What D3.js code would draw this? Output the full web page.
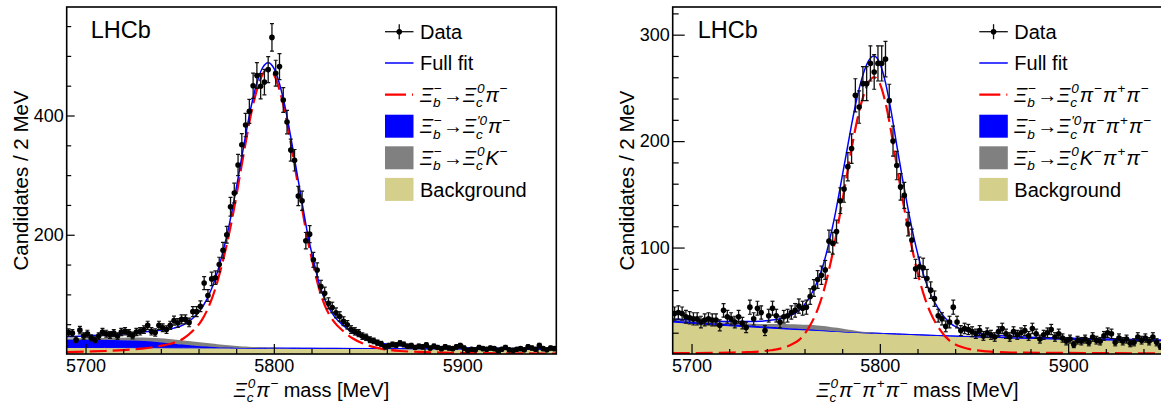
<!DOCTYPE html>
<html>
<head>
<meta charset="utf-8">
<script src="https://cdn.jsdelivr.net/npm/d3@7"></script>
<style>
  body { margin: 0; background: #fff; }
  svg { display: block; font-family: "Liberation Sans", Arial, Helvetica, sans-serif; }
</style>
</head>
<body>
<div id="chart"></div>
<script>
// 2 MeV bins from 5690 to 5950 (bin centres)
var binCentres = d3.range(5691, 5950, 2);

// candidates per bin
var leftCounts = [
  36,35,24,40,30,34,27,24,30,37,34,32,35,30,37,38,35,31,37,38,41,48,38,36,48,44,41,48,56,52,58,58,53,71,71,80,119,98,
  126,128,150,174,200,247,270,317,351,384,407,450,467,449,456,477,531,471,482,426,389,
  342,325,265,257,190,201,158,141,113,102,85,78,69,63,55,49,41,38,35,30,28,
  24,22,19,17,12,14,16,15,18,16,13,14,11,13,12,15,10,13,11,9,12,10,9,12,14,10,6,8,7,11,9,8,10,9,6,8,11,7,6,8,9,7,12,10,8,14,9,7,10,9
];
var rightCounts = [
  38,39,38,35,34,33,33,30,32,33,32,32,27,41,35,33,30,35,29,25,44,33,43,39,22,36,43,36,30,35,36,39,41,45,43,44,54,62,70,
  74,79,106,104,115,144,155,176,193,243,232,254,254,273,265,273,273,277,238,200,
  177,157,149,122,107,80,82,81,71,60,52,36,33,26,30,44,30,22,24,
  23,21,19,22,17,20,18,16,21,24,19,16,21,18,20,22,17,24,19,14,18,20,23,16,19,15,12,14,9,13,12,14,11,16,13,12,17,20,19,11,15,12,14,10,11,16,13,15,12,16,11,7
];

// fit curves sampled at these masses
var fitMass = [5690,5700,5710,5720,5730,5737,5742,5747,5752,5757,5762,5767,5770,5773,5776,5779,5782,5785,5788,5791,5794,5797,
  5800,5803,5806,5809,5812,5815,5818,5821,5824,5827,5832,5837,5842,5847,5857,5867,5877,5897,5920,5950];

var leftFull = [29,30.4,31.8,33.7,36.6,38.8,40.8,43.4,48.8,60,78,110,137,172,212,260,313,366.6,415.9,454.5,480.1,488.7,
  479.4,453.2,413.9,363.8,308.7,253.6,200.6,157.6,119.5,91.5,63.5,47.4,35.3,27.3,18.1,14,12.3,10.6,9.5,8.8];
var leftSignal = [3,4,5,6.5,9,12,15,19,26,39,58,92,121,157,198,246,300,354,404,443,469,478,
  469,443,404,354,299,244,191,148,110,82,54,38,26,18,9,5,3.5,2,1.2,0.8];
var leftBkg = [11,10.9,10.8,10.7,10.6,10.5,10.5,10.4,10.3,10.3,10.2,10.2,10.1,10.1,10.1,10,10,10,9.9,9.9,9.9,9.8,
  9.8,9.8,9.7,9.7,9.7,9.6,9.6,9.6,9.5,9.5,9.5,9.4,9.3,9.3,9.1,9,8.8,8.6,8.3,8];
var leftPartReco = [13,13,13,12.5,11.5,10,8.5,7,5.5,4,2.8,1.8,1.3,0.9,0.6,0.4,0.2,0.1,0,0,0,0,
  0,0,0,0,0,0,0,0,0,0,0,0,0,0,0,0,0,0,0,0];
var leftMisId = [2,2.5,3,4,5.5,6.3,6.8,7,7,6.8,6.3,5.5,5,4.5,4,3.5,3,2.5,2,1.6,1.2,0.9,
  0.6,0.4,0.2,0.1,0,0,0,0,0,0,0,0,0,0,0,0,0,0,0,0];

var rightFull = [32.8,32,31.1,30.6,30.5,30.8,31.7,33.1,35.9,40.8,51.4,68.8,84.2,104.6,128.8,157.1,186.2,215.5,241.7,262,275.4,279.9,
  273,255,228,196,165,136,110,88,70,56,40,29.5,24.2,21.2,18.3,16.8,16,15,14.1,13.1];
var rightSignal = [0.8,0.9,1,1.3,1.8,2.5,3.5,5,8,13,24,42,58,79,104,133,163,193,220,241,255,260,
  254,236,209,177,146,118,92,70,52,38.4,22.7,12.5,7.5,4.8,2.5,1.5,1.2,1,0.8,0.6];
var rightBkg = [30,28.8,27.6,26.5,25.5,24.8,24.3,23.8,23.3,22.9,22.5,22.1,21.8,21.5,21.2,21,20.7,20.5,20.2,20,19.8,19.6,
  19.4,19.2,19,18.8,18.6,18.4,18.2,18,17.8,17.6,17.3,17,16.7,16.4,15.8,15.3,14.8,14,13.3,12.5];
var rightPartReco = [1.5,1.5,1.5,1.5,1.4,1.3,1.2,1.1,1,0.9,0.7,0.5,0.4,0.3,0.2,0.1,0,0,0,0,0,0,
  0,0,0,0,0,0,0,0,0,0,0,0,0,0,0,0,0,0,0,0];
var rightMisId = [0.5,0.8,1,1.3,1.8,2.2,2.7,3.2,3.6,4,4.2,4.2,4,3.8,3.4,3,2.5,2,1.5,1,0.6,0.3,
  0.1,0,0,0,0,0,0,0,0,0,0,0,0,0,0,0,0,0,0,0];

// axis ticks
var xMajorTicks = [5700, 5800, 5900];
var xMinorTicks = [5720, 5740, 5760, 5780, 5820, 5840, 5860, 5880, 5920, 5940];
var leftYMajor = [200, 400];
var leftYMinor = [50, 100, 150, 250, 300, 350, 450, 500, 550];
var rightYMajor = [100, 200, 300];
var rightYMinor = [20, 40, 60, 80, 120, 140, 160, 180, 220, 240, 260, 280, 320];

// legend labels; b = italic base, n = upright, gap = blank space, sub/sup = stacked scripts
var XIB = [{b: "\u039E"}, {sub: "b", sup: "\u2212"}, {n: "\u2192"}];
var leftLegend = [
  [{n: "Data"}],
  [{n: "Full fit"}],
  XIB.concat([{b: "\u039E"}, {sub: "c", sup: "0"}, {b: "\u03C0"}, {sup: "\u2212"}]),
  XIB.concat([{b: "\u039E"}, {sub: "c", sup: "\u20320"}, {b: "\u03C0"}, {sup: "\u2212"}]),
  XIB.concat([{b: "\u039E"}, {sub: "c", sup: "0"}, {b: "K"}, {sup: "\u2212"}]),
  [{n: "Background"}]
];
var rightLegend = [
  [{n: "Data"}],
  [{n: "Full fit"}],
  XIB.concat([{b: "\u039E"}, {sub: "c", sup: "0"}, {b: "\u03C0"}, {sup: "\u2212"}, {b: "\u03C0"}, {sup: "+"}, {b: "\u03C0"}, {sup: "\u2212"}]),
  XIB.concat([{b: "\u039E"}, {sub: "c", sup: "\u20320"}, {b: "\u03C0"}, {sup: "\u2212"}, {b: "\u03C0"}, {sup: "+"}, {b: "\u03C0"}, {sup: "\u2212"}]),
  XIB.concat([{b: "\u039E"}, {sub: "c", sup: "0"}, {b: "K"}, {sup: "\u2212"}, {b: "\u03C0"}, {sup: "+"}, {b: "\u03C0"}, {sup: "\u2212"}]),
  [{n: "Background"}]
];
var leftXTitle = [{b: "\u039E"}, {sub: "c", sup: "0"}, {b: "\u03C0"}, {sup: "\u2212"}, {gap: 4}, {n: "mass [MeV]"}];
var rightXTitle = [{b: "\u039E"}, {sub: "c", sup: "0"}, {b: "\u03C0"}, {sup: "\u2212"}, {b: "\u03C0"}, {sup: "+"}, {b: "\u03C0"}, {sup: "\u2212"}, {gap: 4}, {n: "mass [MeV]"}];

var KHAKI = "#d4d08c", BLUE = "#0000ff", GREY = "#808080", RED = "#ff0000";

var svg = d3.select("#chart")
  .append("svg")
  .attr("width", 1161)
  .attr("height", 410);

// writes ROOT-like latex pieces one after another, returns the width used
function drawRich(g, x, y, tokens, fs) {
  var cx = x;
  tokens.forEach(function(tk) {
    if (tk.gap) {
      cx += tk.gap;
    } else if (tk.b !== undefined || tk.n !== undefined) {
      var t = g.append("text")
        .attr("x", cx).attr("y", y)
        .style("font-size", fs + "px")
        .style("font-style", tk.b !== undefined ? "italic" : "normal")
        .text(tk.b !== undefined ? tk.b : tk.n);
      cx += t.node().getComputedTextLength();
    } else {
      var w = 0;
      var sfs = fs * 0.68;
      if (tk.sup) {
        var s = g.append("text")
          .attr("x", cx + 1).attr("y", y - fs * 0.43)
          .style("font-size", sfs + "px")
          .style("font-style", /[0-9a-z]/.test(tk.sup) ? "italic" : "normal")
          .text(tk.sup);
        w = Math.max(w, s.node().getComputedTextLength());
      }
      if (tk.sub) {
        var u = g.append("text")
          .attr("x", cx).attr("y", y + fs * 0.27)
          .style("font-size", sfs + "px")
          .style("font-style", "italic")
          .text(tk.sub);
        w = Math.max(w, u.node().getComputedTextLength());
      }
      cx += w + 2;
    }
  });
  return cx - x;
}

function drawPanel(p) {
  var left = p.left, top = 7, width = 489.6, height = 347;

  var g = svg.append("g")
    .attr("transform", "translate(" + left + "," + top + ")");

  var x = d3.scaleLinear().domain([5690, 5950]).range([0, width]);
  var y = d3.scaleLinear().domain([0, p.yMax]).range([height, 0]);

  g.append("clipPath").attr("id", "clip" + p.id)
    .append("rect").attr("width", width).attr("height", height);

  var plot = g.append("g").attr("clip-path", "url(#clip" + p.id + ")");

  // stacked components: background, partially reconstructed, misidentified
  var table = fitMass.map(function(m, i) {
    return { m: m, bkg: p.bkg[i], part: p.part[i], misid: p.misid[i] };
  });
  var stack = d3.stack().keys(["bkg", "part", "misid"])(table);
  var fills = { bkg: KHAKI, part: BLUE, misid: GREY };

  var area = d3.area()
    .curve(d3.curveMonotoneX)
    .x(function(d) { return x(d.data.m); })
    .y0(function(d) { return y(d[0]); })
    .y1(function(d) { return y(d[1]); });

  plot.selectAll(".layer")
    .data(stack)
    .enter().append("path")
    .attr("class", "layer")
    .attr("d", area)
    .attr("fill", function(d) { return fills[d.key]; })
    .attr("stroke", function(d) { return d.key == "part" ? BLUE : "none"; })
    .attr("stroke-width", 1);

  var line = function(vals) {
    return d3.line()
      .curve(d3.curveMonotoneX)
      .x(function(d, i) { return x(fitMass[i]); })
      .y(function(d) { return y(d); })(vals);
  };

  plot.append("path")
    .attr("d", line(p.signal))
    .attr("fill", "none")
    .attr("stroke", RED)
    .attr("stroke-width", 2.2)
    .attr("stroke-dasharray", "17,6");

  plot.append("path")
    .attr("d", line(p.full))
    .attr("fill", "none")
    .attr("stroke", BLUE)
    .attr("stroke-width", 1.5);

  // data points with Poisson error bars
  var pts = binCentres.map(function(m, i) { return { m: m, n: p.counts[i] }; });
  var pt = plot.selectAll(".pt")
    .data(pts)
    .enter().append("g")
    .attr("class", "pt");
  pt.append("line")
    .attr("x1", function(d) { return x(d.m); })
    .attr("x2", function(d) { return x(d.m); })
    .attr("y1", function(d) { return y(d.n + Math.sqrt(d.n)); })
    .attr("y2", function(d) { return y(d.n - Math.sqrt(d.n)); })
    .attr("stroke", "#111").attr("stroke-width", 1.3);
  [1, -1].forEach(function(sgn) {
    pt.append("line")
      .attr("x1", function(d) { return x(d.m) - 2; })
      .attr("x2", function(d) { return x(d.m) + 2; })
      .attr("y1", function(d) { return y(d.n + sgn * Math.sqrt(d.n)); })
      .attr("y2", function(d) { return y(d.n + sgn * Math.sqrt(d.n)); })
      .attr("stroke", "#111").attr("stroke-width", 1.2);
  });
  pt.append("circle")
    .attr("cx", function(d) { return x(d.m); })
    .attr("cy", function(d) { return y(d.n); })
    .attr("r", 2.8)
    .attr("fill", "#000");

  // axes, ticks drawn inside the frame
  var axisStyle = function(sel) {
    sel.select(".domain").remove();
    sel.selectAll("line").attr("stroke", "#000").attr("stroke-width", 1.2);
    sel.selectAll("text")
      .style("font-size", "18px")
      .style("font-family", "Liberation Sans, Arial, sans-serif")
      .attr("fill", "#000");
  };
  g.append("g")
    .attr("transform", "translate(0," + height + ")")
    .call(d3.axisBottom(x).tickValues(xMajorTicks).tickSize(-10).tickPadding(5.7).tickFormat(d3.format("d")))
    .call(axisStyle);
  g.append("g")
    .attr("transform", "translate(0," + height + ")")
    .call(d3.axisBottom(x).tickValues(xMinorTicks).tickSize(-5).tickFormat(""))
    .call(axisStyle);
  g.append("g")
    .call(d3.axisLeft(y).tickValues(p.yMajor).tickSize(-p.yMajorLen).tickPadding(3).tickFormat(d3.format("d")))
    .call(axisStyle);
  g.append("g")
    .call(d3.axisLeft(y).tickValues(p.yMinor).tickSize(-p.yMinorLen).tickFormat(""))
    .call(axisStyle);

  // frame
  g.append("rect")
    .attr("width", width).attr("height", height)
    .attr("fill", "none")
    .attr("stroke", "#000")
    .attr("stroke-width", 1.6);

  // axis titles
  svg.append("text")
    .attr("transform", "translate(" + p.yTitleX + "," + (top + height / 2) + ") rotate(-90)")
    .style("text-anchor", "middle")
    .style("font-size", "20.5px")
    .text("Candidates / 2 MeV");

  var tg = svg.append("g");
  var tw = drawRich(tg, 0, 397, p.xTitle, 20);
  tg.attr("transform", "translate(" + (left + width / 2 - tw / 2) + ",0)");

  // LHCb label
  g.append("text")
    .attr("x", p.lhcbX - left).attr("y", 38.3 - top)
    .style("font-size", "23.5px")
    .text("LHCb");

  // legend
  var lx = p.legendX, sw = 28.5;
  var rows = [31.7, 63, 94.6, 126.2, 157.8, 189.4];
  rows.forEach(function(ry, i) {
    if (i == 0) {
      svg.append("line").attr("x1", lx).attr("x2", lx + sw).attr("y1", ry).attr("y2", ry)
        .attr("stroke", "#111").attr("stroke-width", 1.3);
      svg.append("line").attr("x1", lx + sw / 2).attr("x2", lx + sw / 2).attr("y1", ry - 7.5).attr("y2", ry + 7.5)
        .attr("stroke", "#111").attr("stroke-width", 1.3);
      svg.append("circle").attr("cx", lx + sw / 2).attr("cy", ry).attr("r", 2.8).attr("fill", "#000");
    } else if (i == 1) {
      svg.append("line").attr("x1", lx).attr("x2", lx + sw).attr("y1", ry).attr("y2", ry)
        .attr("stroke", BLUE).attr("stroke-width", 1.5);
    } else if (i == 2) {
      svg.append("line").attr("x1", lx).attr("x2", lx + sw).attr("y1", ry).attr("y2", ry)
        .attr("stroke", RED).attr("stroke-width", 2.2).attr("stroke-dasharray", "21,6,1,6");
    } else {
      svg.append("rect").attr("x", lx).attr("y", ry - 11.5).attr("width", sw).attr("height", 23)
        .attr("fill", [BLUE, GREY, KHAKI][i - 3]);
    }
    drawRich(svg.append("g"), lx + sw + 6.5, ry + 7.2, p.legend[i], 20);
  });
}

drawPanel({
  id: "L", left: 66.7, yMax: 582, counts: leftCounts,
  full: leftFull, signal: leftSignal, bkg: leftBkg, part: leftPartReco, misid: leftMisId,
  yMajor: leftYMajor, yMinor: leftYMinor, yMajorLen: 8, yMinorLen: 4.5,
  yTitleX: 27.5, xTitle: leftXTitle, lhcbX: 90.7, legendX: 385, legend: leftLegend
});

drawPanel({
  id: "R", left: 672.7, yMax: 326, counts: rightCounts,
  full: rightFull, signal: rightSignal, bkg: rightBkg, part: rightPartReco, misid: rightMisId,
  yMajor: rightYMajor, yMinor: rightYMinor, yMajorLen: 12, yMinorLen: 6,
  yTitleX: 633.5, xTitle: rightXTitle, lhcbX: 697.8, legendX: 979.3, legend: rightLegend
});
</script>
</body>
</html>
